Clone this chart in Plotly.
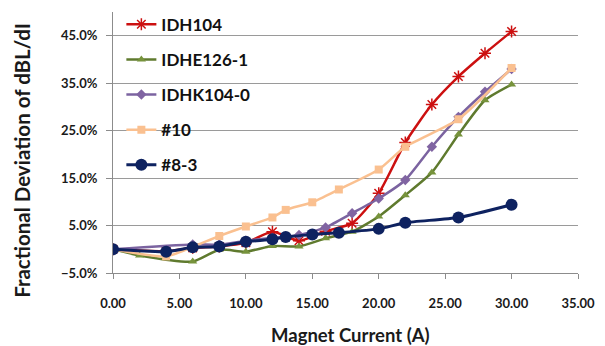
import plotly.graph_objects as go

# Magnet current (A) sample points for each magnet
current_idh104 = [0, 4, 6, 8, 10, 12, 14, 16, 18, 20, 22, 24, 26, 28, 30]
dev_idh104 = [0.0, -0.4, 0.3, 0.6, 1.4, 3.7, 1.8, 3.8, 5.5, 11.8, 22.5, 30.5, 36.4, 41.3, 45.9]

current_idhe126 = [0, 2, 6, 8, 10, 12, 14, 16, 18, 20, 22, 24, 26, 28, 30]
dev_idhe126 = [0.0, -1.3, -2.6, -0.1, -0.5, 0.7, 0.6, 2.3, 3.7, 6.9, 11.4, 16.2, 24.2, 31.4, 34.7]

current_idhk104 = [0, 6, 8, 10, 12, 14, 16, 18, 20, 22, 24, 26, 28, 30]
dev_idhk104 = [0.0, 1.0, 1.0, 1.8, 2.4, 3.0, 4.6, 7.6, 10.7, 14.6, 21.6, 27.9, 33.2, 38.0]

current_10 = [0, 4, 6, 8, 10, 12, 13, 15, 17, 20, 22, 26, 30]
dev_10 = [0.0, -1.5, 0.5, 2.8, 4.8, 6.7, 8.3, 9.9, 12.6, 16.8, 21.6, 27.4, 38.2]

current_8_3 = [0, 4, 6, 8, 10, 12, 13, 15, 17, 20, 22, 26, 30]
dev_8_3 = [0.0, -0.5, 0.4, 0.6, 1.6, 2.1, 2.6, 3.1, 3.5, 4.3, 5.6, 6.7, 9.4]

y_ticks = [-0.05, 0.05, 0.15, 0.25, 0.35, 0.45]
x_ticks = [0, 5, 10, 15, 20, 25, 30, 35]

FONT = "Lato"
TEXT = "#1a1a1a"

series = [
    ("IDH104", current_idh104, dev_idh104, "#CC1010",
     dict(symbol="asterisk-open", size=10, line=dict(color="#CC1010", width=1.5)), 2.5),
    ("IDHE126-1", current_idhe126, dev_idhe126, "#5F7A2E",
     dict(symbol="triangle-up", size=8, color="#77933C"), 2.5),
    ("IDHK104-0", current_idhk104, dev_idhk104, "#7B63A0",
     dict(symbol="diamond", size=8, color="#8064A2"), 2.5),
    ("#10", current_10, dev_10, "#FAC090",
     dict(symbol="square", size=8, color="#FAC090"), 2.5),
    ("#8-3", current_8_3, dev_8_3, "#0E2260",
     dict(symbol="circle", size=12, color="#0E2260"), 3),
]

fig = go.Figure()
for i, (name, xs, ys, color, marker, width) in enumerate(series):
    fig.add_trace(go.Scatter(
        x=xs,
        y=[v / 100 for v in ys],
        mode="lines+markers",
        name=name,
        legendgroup=f"g{i}",
        line=dict(color=color, width=width, shape="spline", smoothing=0.6),
        marker=marker,
    ))

fig.update_layout(
    width=605,
    height=346,
    margin=dict(l=113, r=27, t=12, b=73, autoexpand=False),
    paper_bgcolor="white",
    plot_bgcolor="white",
    font=dict(family=FONT, color=TEXT),
    showlegend=True,
    legend=dict(
        x=0.018, y=1.02, xanchor="left", yanchor="top",
        bgcolor="rgba(0,0,0,0)",
        font=dict(family=FONT, size=17, color="#111111", weight="bold"),
        tracegroupgap=10,
        itemwidth=30,
        maxheight=320,
    ),
    xaxis=dict(
        range=[0, 35],
        tickvals=x_ticks,
        ticktext=[f"{v:.2f}" for v in x_ticks],
        showgrid=False,
        zeroline=False,
        showline=True,
        linecolor="#8c8c8c",
        linewidth=1,
        ticks="outside",
        ticklen=5,
        tickcolor="#8c8c8c",
        ticklabelstandoff=13,
        tickfont=dict(family=FONT, size=13, weight="bold", color=TEXT),
    ),
    yaxis=dict(
        range=[-0.05, 0.5],
        tickvals=y_ticks,
        tickformat=".1%",
        showgrid=True,
        gridcolor="#9a9a9a",
        gridwidth=1,
        zeroline=False,
        showline=True,
        linecolor="#8c8c8c",
        linewidth=1,
        ticks="outside",
        ticklen=6,
        tickcolor="#8c8c8c",
        ticklabelstandoff=6,
        tickfont=dict(family=FONT, size=13, weight="bold", color=TEXT),
    ),
    annotations=[
        dict(text="<b>Magnet Current (A)</b>", xref="paper", yref="paper",
             x=0.51, y=-0.2375, xanchor="center", yanchor="middle",
             showarrow=False, font=dict(family=FONT, size=18.5, color=TEXT)),
        dict(text="<b>Fractional Deviation of dBL/dI</b>", xref="paper", yref="paper",
             x=-0.196, y=0.433, xanchor="center", yanchor="middle", textangle=-90,
             showarrow=False, font=dict(family=FONT, size=20.5, color=TEXT)),
    ],
)

fig.write_html("out.html")
